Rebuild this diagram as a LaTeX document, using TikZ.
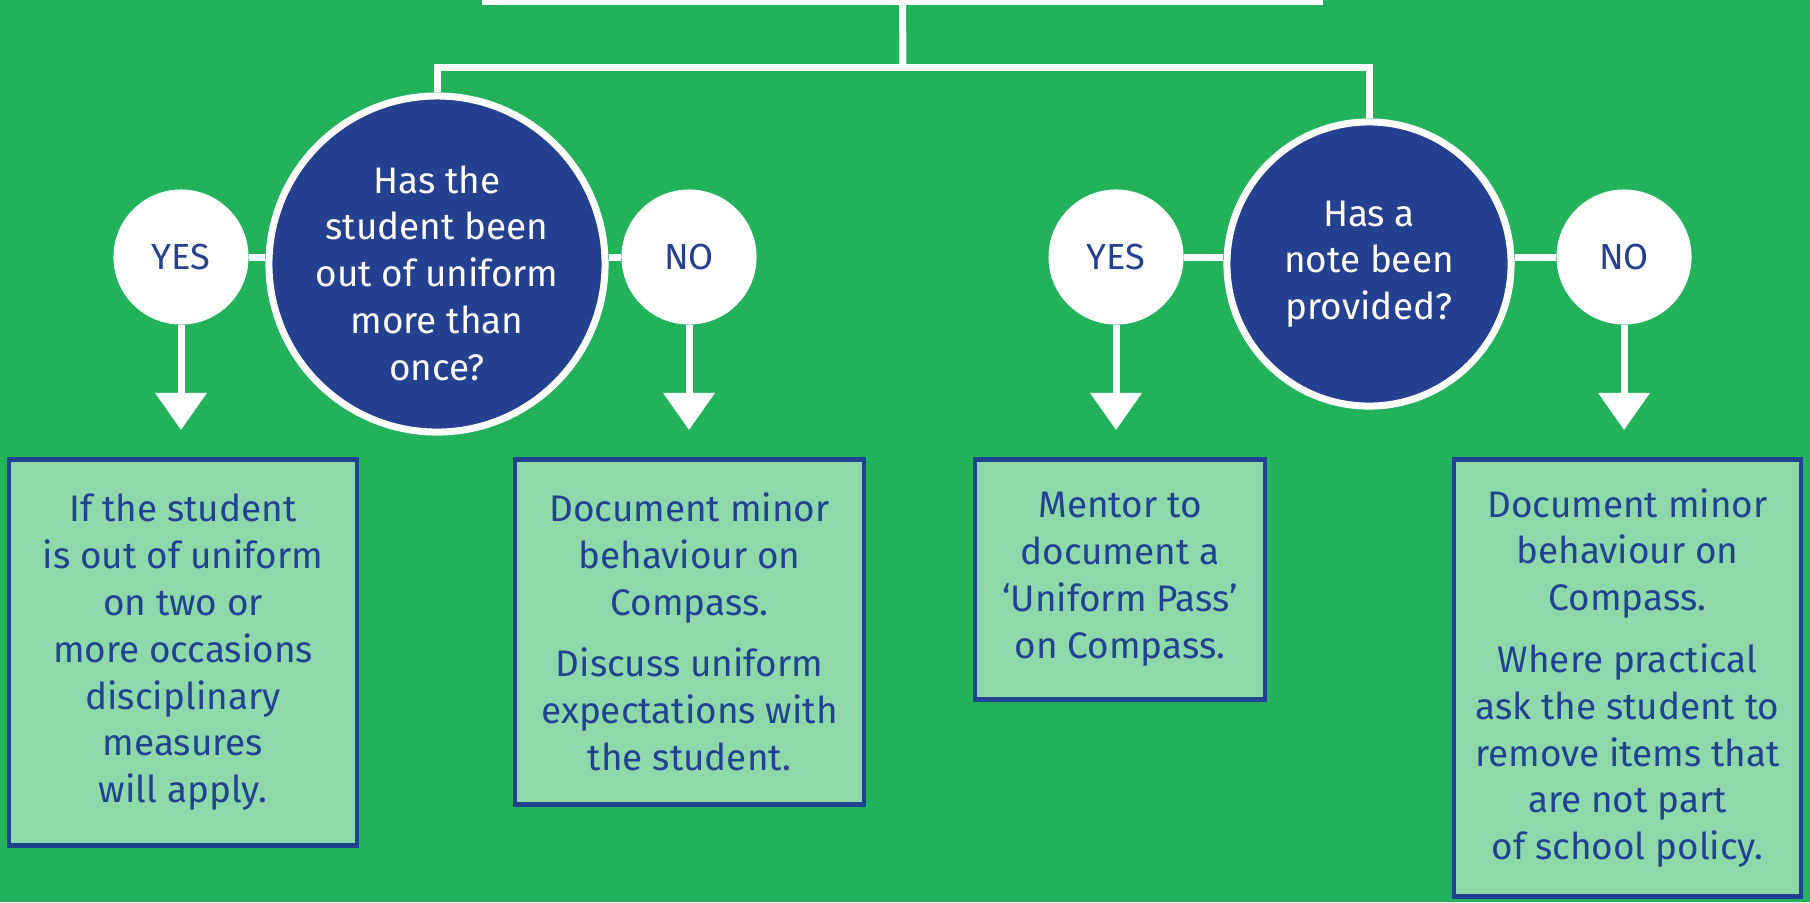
\documentclass[tikz,border=0pt]{standalone}
\usepackage{fontspec}
\setmainfont{Fira Sans}
\usepackage{xcolor}
\usetikzlibrary{arrows.meta, positioning}

\definecolor{bggreen}{RGB}{34,178,91}
\definecolor{qblue}{RGB}{36,64,143}
\definecolor{boxgreen}{RGB}{143,216,170}
\definecolor{boxblue}{RGB}{33,66,145}

\begin{document}
\begin{tikzpicture}[x=0.01cm, y=-0.01cm,
    link/.style={white, line width=0.07cm},
    down/.style={white, line width=0.07cm, -{Triangle[width=0.5cm, length=0.37cm]}, shorten >=0.27cm},
    question/.style={circle, draw=white, line width=0.07cm, fill=qblue, text=white, minimum size=2.84cm, inner sep=0pt, align=center, font=\fontsize{10.5}{13.3}\selectfont},
    answer/.style={circle, fill=white, text=qblue, minimum size=1.35cm, inner sep=0pt, font=\fontsize{10.3}{12}\selectfont},
    action/.style={rectangle, anchor=north, draw=boxblue, line width=0.045cm, fill=boxgreen, text=boxblue, align=center, inner sep=0pt, font=\fontsize{10.5}{13.3}\selectfont}]
    % 1. Nen xanh va khung hinh
    \fill[bggreen] (0,0) rectangle (1810,902);
    \useasboundingbox (0,0) rectangle (1810,902);

    % 2. Hop tren cung (bi cat) va duong chia nhanh
    \node[draw=white, line width=0.06cm, minimum width=8.35cm, minimum height=0.84cm, outer sep=0pt] (top) at (902.5,-40) {};
    \coordinate (split) at (903,67);

    % 3. Hai cau hoi chinh
    \node[question] (qa) at (437,264) {\rule{0pt}{13pt}Has the\\student been\\out of uniform\\more than\\once?};
    \node[question] (qb) at (1369,264) {Has a\\note been\\provided?};

    \draw[link] (top.south) -- (split);
    \draw[link] (qa.north) -- (qa.north |- split) -- (qb.north |- split) -- (qb.north);

    % 4. Cac o YES / NO
    \node[answer] (yesa) at (181,257) {YES};
    \node[answer] (noa) at (689,257) {NO};
    \node[answer] (yesb) at (1116,257) {YES};
    \node[answer] (nob) at (1624,257) {NO};

    \draw[link] (yesa.east) -- (yesa.east -| qa.west);
    \draw[link] (qa.east |- noa.west) -- (noa.west);
    \draw[link] (yesb.east) -- (yesb.east -| qb.west);
    \draw[link] (qb.east |- nob.west) -- (nob.west);

    % 5. Cac hop hanh dong
    \node[action, minimum width=3.48cm, minimum height=3.86cm] (acta) at (183,457)
      {If the student\\is out of uniform\\on two or\\more occasions\\disciplinary\\measures\\will apply.};
    \node[action, minimum width=3.49cm, minimum height=3.45cm] (actb) at (689.5,457)
      {Document minor\\behaviour on\\Compass.\\[0.15cm]Discuss uniform\\expectations with\\the student.};
    \node[action, minimum width=2.90cm, minimum height=2.40cm] (actc) at (1120,457)
      {Mentor to\\document a\\`Uniform Pass'\\on Compass.};
    \node[action, minimum width=3.47cm, minimum height=4.37cm] (actd) at (1627.5,457)
      {Document minor\\behaviour on\\Compass.\\[0.15cm]Where practical\\ask the student to\\remove items that\\are not part\\of school policy.};

    % 6. Mui ten xuong
    \draw[down] (yesa.south) -- (yesa.south |- acta.north);
    \draw[down] (noa.south) -- (noa.south |- actb.north);
    \draw[down] (yesb.south) -- (yesb.south |- actc.north);
    \draw[down] (nob.south) -- (nob.south |- actd.north);

\end{tikzpicture}
\end{document}
